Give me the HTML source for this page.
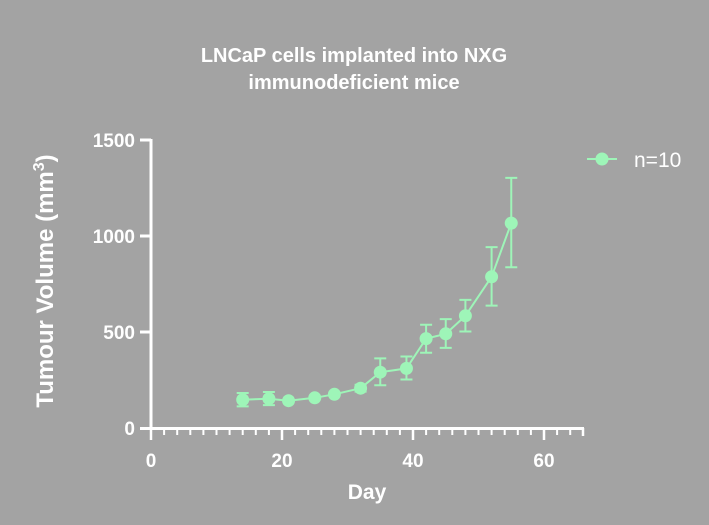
<!DOCTYPE html>
<html><head><style>
html,body{margin:0;padding:0;background:#a3a3a3;}
svg{display:block;font-family:"Liberation Sans",Arial,sans-serif;}
</style></head><body>
<svg width="709" height="525" viewBox="0 0 709 525">
<rect width="709" height="525" fill="#a3a3a3"/>
<text x="354" y="62" font-size="20" font-weight="bold" fill="#fff" text-anchor="middle">LNCaP cells implanted into NXG</text>
<text x="354" y="89" font-size="20" font-weight="bold" fill="#fff" text-anchor="middle">immunodeficient mice</text>
<g stroke="#fff" stroke-width="3" fill="none">
<line x1="151" y1="139" x2="151" y2="430"/>
<line x1="149.5" y1="428.5" x2="584" y2="428.5"/>
<line x1="140" y1="140" x2="151" y2="140"/>
<line x1="140" y1="236" x2="151" y2="236"/>
<line x1="140" y1="332" x2="151" y2="332"/>
<line x1="140" y1="428.5" x2="151" y2="428.5"/>
</g>
<g stroke="#fff" stroke-width="2.5">
<line x1="151" y1="428" x2="151" y2="440"/>
<line x1="282" y1="428" x2="282" y2="440"/>
<line x1="413" y1="428" x2="413" y2="440"/>
<line x1="544" y1="428" x2="544" y2="440"/>
<line x1="583" y1="428" x2="583" y2="436"/>
</g>
<g stroke="#fff" stroke-width="2">
<line x1="164.1" y1="428" x2="164.1" y2="435"/><line x1="177.2" y1="428" x2="177.2" y2="435"/><line x1="190.3" y1="428" x2="190.3" y2="435"/><line x1="203.4" y1="428" x2="203.4" y2="435"/><line x1="216.5" y1="428" x2="216.5" y2="435"/><line x1="229.6" y1="428" x2="229.6" y2="435"/><line x1="242.7" y1="428" x2="242.7" y2="435"/><line x1="255.8" y1="428" x2="255.8" y2="435"/><line x1="268.9" y1="428" x2="268.9" y2="435"/>
<line x1="295.1" y1="428" x2="295.1" y2="435"/><line x1="308.2" y1="428" x2="308.2" y2="435"/><line x1="321.3" y1="428" x2="321.3" y2="435"/><line x1="334.4" y1="428" x2="334.4" y2="435"/><line x1="347.5" y1="428" x2="347.5" y2="435"/><line x1="360.6" y1="428" x2="360.6" y2="435"/><line x1="373.7" y1="428" x2="373.7" y2="435"/><line x1="386.8" y1="428" x2="386.8" y2="435"/><line x1="399.9" y1="428" x2="399.9" y2="435"/>
<line x1="426.1" y1="428" x2="426.1" y2="435"/><line x1="439.2" y1="428" x2="439.2" y2="435"/><line x1="452.3" y1="428" x2="452.3" y2="435"/><line x1="465.4" y1="428" x2="465.4" y2="435"/><line x1="478.5" y1="428" x2="478.5" y2="435"/><line x1="491.6" y1="428" x2="491.6" y2="435"/><line x1="504.7" y1="428" x2="504.7" y2="435"/><line x1="517.8" y1="428" x2="517.8" y2="435"/><line x1="530.9" y1="428" x2="530.9" y2="435"/>
<line x1="557.1" y1="428" x2="557.1" y2="435"/><line x1="570.2" y1="428" x2="570.2" y2="435"/>
</g>
<g font-size="19" font-weight="bold" fill="#fff" text-anchor="end">
<text x="135" y="147">1500</text>
<text x="135" y="243">1000</text>
<text x="135" y="339">500</text>
<text x="135" y="435">0</text>
</g>
<g font-size="19" font-weight="bold" fill="#fff" text-anchor="middle">
<text x="151" y="467">0</text>
<text x="282" y="467">20</text>
<text x="413" y="467">40</text>
<text x="544" y="467">60</text>
<text x="367" y="499" font-size="21">Day</text>
</g>
<text transform="translate(53,281) rotate(-90)" font-size="24" font-weight="bold" fill="#fff" text-anchor="middle">Tumour Volume (mm<tspan dy="-9" font-size="16">3</tspan><tspan dy="9">)</tspan></text>
<g stroke="#9ef5b8" stroke-width="2" fill="none">
<path d="M242.7 399.7L268.9 398.7L288.55 400.7L314.75 397.8L334.4 394.3L360.6 388.2L380.25 372.2L406.45 368.4L426.1 338.6L445.75 333.8L465.4 315.8L491.6 276.8L511.25 223.1"/>
<path d="M242.7 406.4V393M236.7 406.4H248.7M236.7 393H248.7"/>
<path d="M268.9 405.1V392M262.9 405.1H274.9M262.9 392H274.9"/>
<path d="M380.25 385.3V358.4M374.25 385.3H386.25M374.25 358.4H386.25"/>
<path d="M406.45 379.5V356.5M400.45 379.5H412.45M400.45 356.5H412.45"/>
<path d="M426.1 352.7V324.8M420.1 352.7H432.1M420.1 324.8H432.1"/>
<path d="M445.75 347.9V319.1M439.75 347.9H451.75M439.75 319.1H451.75"/>
<path d="M465.4 331.5V299.9M459.4 331.5H471.4M459.4 299.9H471.4"/>
<path d="M491.6 305.6V247.1M485.6 305.6H497.6M485.6 247.1H497.6"/>
<path d="M511.25 267.2V177.9M505.25 267.2H517.25M505.25 177.9H517.25"/>
<path d="M360.6 391.6V384.7M354.6 391.6H366.6M354.6 384.7H366.6"/>
<path d="M587 159H617"/>
</g>
<g fill="#9ef5b8">
<circle cx="242.7" cy="399.7" r="6.5"/><circle cx="268.9" cy="398.7" r="6.5"/><circle cx="288.55" cy="400.7" r="6.5"/><circle cx="314.75" cy="397.8" r="6.5"/><circle cx="334.4" cy="394.3" r="6.5"/><circle cx="360.6" cy="388.2" r="6.5"/><circle cx="380.25" cy="372.2" r="6.5"/><circle cx="406.45" cy="368.4" r="6.5"/><circle cx="426.1" cy="338.6" r="6.5"/><circle cx="445.75" cy="333.8" r="6.5"/><circle cx="465.4" cy="315.8" r="6.5"/><circle cx="491.6" cy="276.8" r="6.5"/><circle cx="511.25" cy="223.1" r="6.5"/>
<circle cx="602" cy="159" r="6.5"/>
</g>
<text x="634" y="167" font-size="21" fill="#fff">n=10</text>
</svg>
</body></html>
